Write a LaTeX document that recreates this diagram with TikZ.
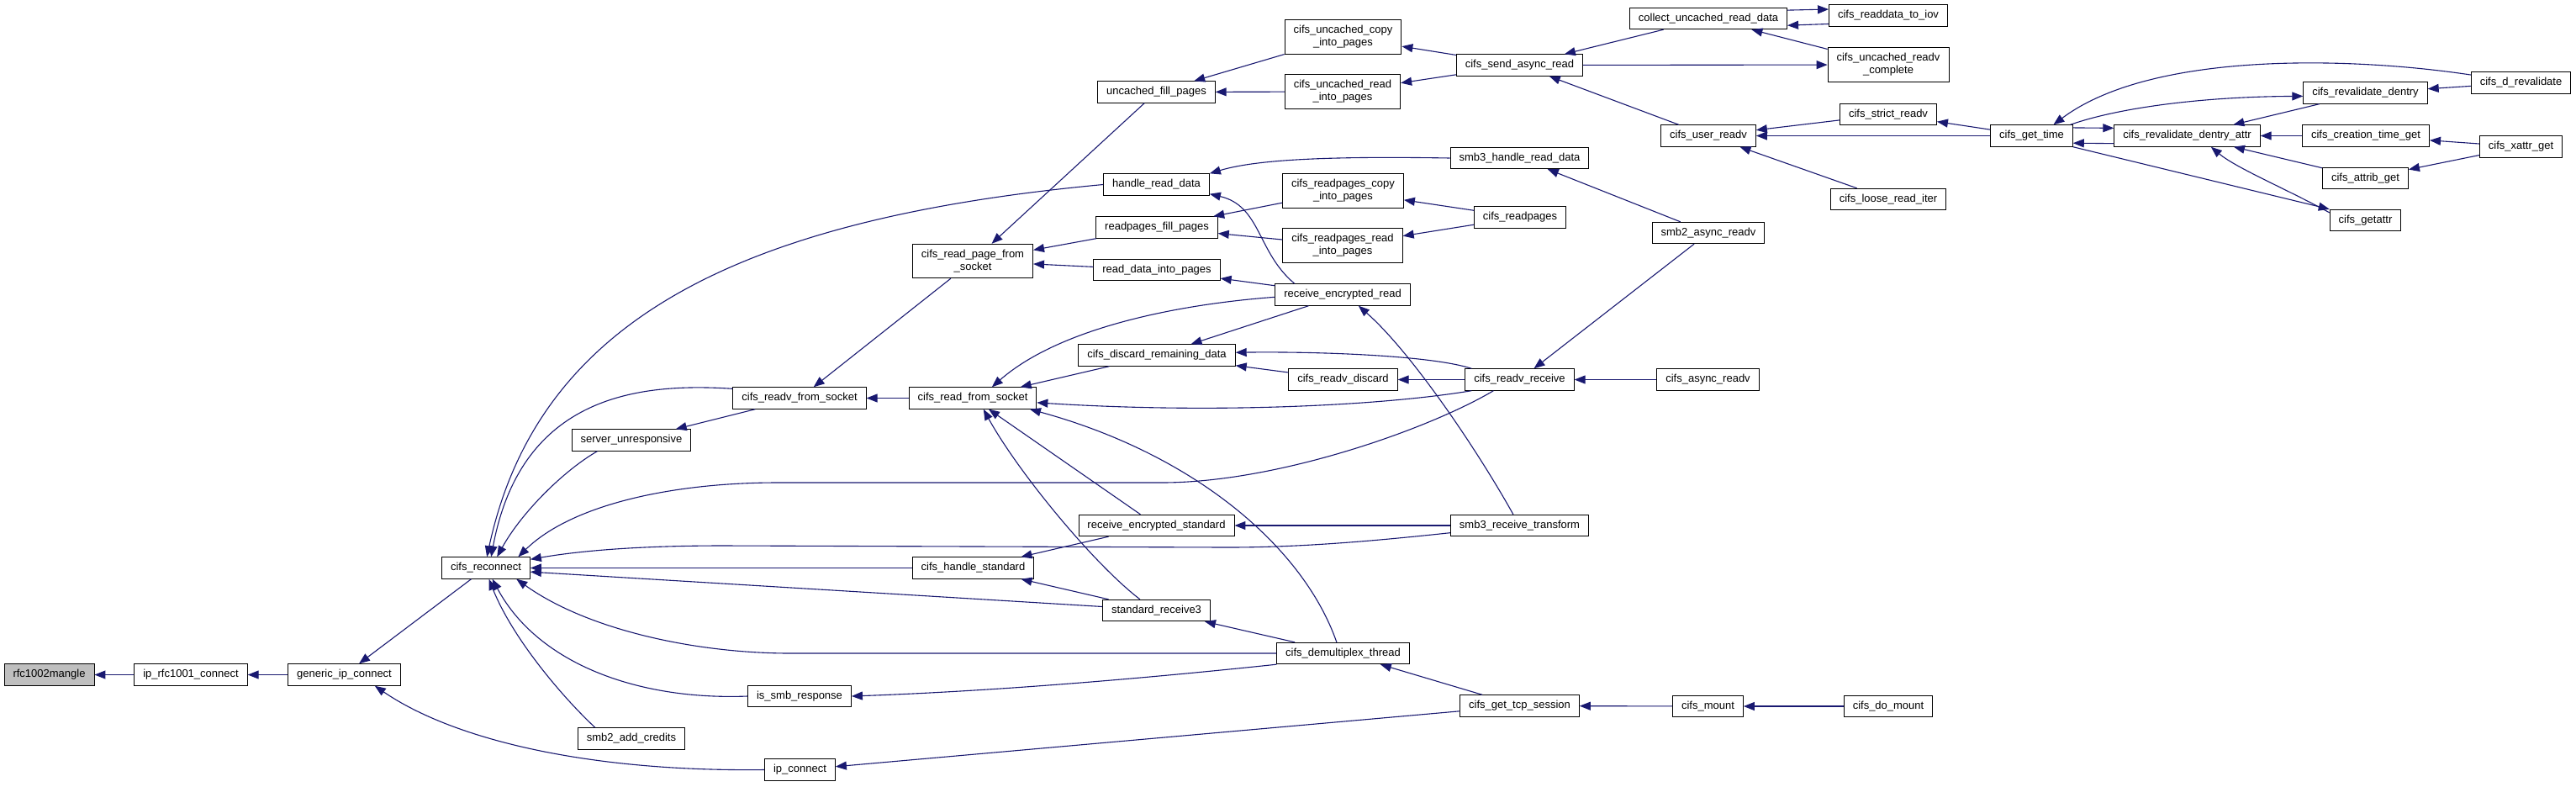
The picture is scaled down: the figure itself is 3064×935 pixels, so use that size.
\documentclass[tikz,border=0pt]{standalone}
\usepackage{fontspec}
\setmainfont{Liberation Sans}
\usetikzlibrary{arrows.meta}
\definecolor{callblue}{HTML}{191970}
\definecolor{rootgray}{HTML}{BFBFBF}

\begin{document}
\begin{tikzpicture}[x=1pt,y=-1pt,>={Triangle[length=13pt,width=10pt]},
  every node/.style={font=\fontsize{13}{15}\selectfont},
  func/.style={draw=black,fill=white,line width=0.9pt,inner xsep=10.5pt,inner ysep=4pt,minimum height=25.5pt},
  twoline/.style={func,align=center,minimum height=40.5pt},
  call/.style={callblue,line width=1.1pt,->}]
  \useasboundingbox (0,0) rectangle (3064,935);
  \node[func,fill=rootgray] (rfc) at (58.5,802.5) {rfc1002mangle};
  \node[func] (iprfc) at (227,802.5) {ip\_rfc1001\_connect};
  \node[func] (generic) at (409.5,802.5) {generic\_ip\_connect};
  \node[func] (reconnect) at (578,675.5) {cifs\_reconnect};
  \node[func] (srvunresp) at (751,523.5) {server\_unresponsive};
  \node[func] (addcredits) at (751,878.5) {smb2\_add\_credits};
  \node[func] (readvsock) at (951,473.5) {cifs\_readv\_from\_socket};
  \node[func] (issmb) at (951,828) {is\_smb\_response};
  \node[func] (ipconnect) at (951.5,915.5) {ip\_connect};
  \node[twoline] (pagesock) at (1157,310.5) {cifs\_read\_page\_from\\\_socket};
  \node[func] (readsock) at (1157,473.5) {cifs\_read\_from\_socket};
  \node[func] (handlestd) at (1157.5,675.5) {cifs\_handle\_standard};
  \node[func] (fillpages) at (1375.5,109.5) {uncached\_fill\_pages};
  \node[func] (handleread) at (1375.5,219.5) {handle\_read\_data};
  \node[func] (rpfill) at (1376,270.5) {readpages\_fill\_pages};
  \node[func] (datainto) at (1376,321) {read\_data\_into\_pages};
  \node[func] (discard) at (1376,422.5) {cifs\_discard\_remaining\_data};
  \node[func] (encstd) at (1375.5,625) {receive\_encrypted\_standard};
  \node[func] (stdrecv) at (1375.5,726) {standard\_receive3};
  \node[twoline] (uccopy) at (1597.5,44) {cifs\_uncached\_copy\\\_into\_pages};
  \node[twoline] (ucread) at (1597,109) {cifs\_uncached\_read\\\_into\_pages};
  \node[twoline] (rpcopy) at (1597.5,227) {cifs\_readpages\_copy\\\_into\_pages};
  \node[twoline] (rpread) at (1597,292) {cifs\_readpages\_read\\\_into\_pages};
  \node[func] (encread) at (1597,350.5) {receive\_encrypted\_read};
  \node[func] (rvdiscard) at (1597.5,451.5) {cifs\_readv\_discard};
  \node[func] (demux) at (1597.5,777) {cifs\_demultiplex\_thread};
  \node[func] (sendasync) at (1807.5,77.5) {cifs\_send\_async\_read};
  \node[func] (handledata) at (1807.5,188) {smb3\_handle\_read\_data};
  \node[func] (readpages) at (1808,258.5) {cifs\_readpages};
  \node[func] (rvreceive) at (1807.5,451.5) {cifs\_readv\_receive};
  \node[func] (transform) at (1807.5,625) {smb3\_receive\_transform};
  \node[func] (tcpsession) at (1807.5,839.5) {cifs\_get\_tcp\_session};
  \node[func] (collect) at (2032,22) {collect\_uncached\_read\_data};
  \node[func] (userreadv) at (2032,161.5) {cifs\_user\_readv};
  \node[func] (smb2readv) at (2032,277) {smb2\_async\_readv};
  \node[func] (asyncreadv) at (2031.5,451.5) {cifs\_async\_readv};
  \node[func] (mount) at (2031.5,840) {cifs\_mount};
  \node[func] (toiov) at (2246,18.5) {cifs\_readdata\_to\_iov};
  \node[twoline] (ucdone) at (2246,77) {cifs\_uncached\_readv\\\_complete};
  \node[func] (strictreadv) at (2246,136) {cifs\_strict\_readv};
  \node[func] (looseiter) at (2246,237) {cifs\_loose\_read\_iter};
  \node[func] (domount) at (2246,840) {cifs\_do\_mount};
  \node[func] (gettime) at (2416.5,161.5) {cifs\_get\_time};
  \node[func] (revalattr) at (2601.5,161.5) {cifs\_revalidate\_dentry\_attr};
  \node[func] (revaldentry) at (2813.5,110.5) {cifs\_revalidate\_dentry};
  \node[func] (creation) at (2814,161.5) {cifs\_creation\_time\_get};
  \node[func] (attribget) at (2813.5,212) {cifs\_attrib\_get};
  \node[func] (getattr) at (2813.5,262) {cifs\_getattr};
  \node[func] (drevalidate) at (2998.5,98.5) {cifs\_d\_revalidate};
  \node[func] (xattrget) at (2998.5,174.5) {cifs\_xattr\_get};
  \draw[call] (iprfc) -- (rfc);
  \draw[call] (generic) -- (iprfc);
  \draw[call] (reconnect) -- (generic);
  \draw[call] (ipconnect.west) .. controls (700,918) and (540,880) .. (generic.-20);
  \draw[call] (tcpsession) -- (ipconnect);
  \draw[call] (mount) -- (tcpsession);
  \draw[call] (domount) -- (mount);
  \draw[call] (tcpsession) -- (demux);
  \draw[call] (demux.south west) .. controls (1350,808) and (1180,822) .. (issmb.east);
  \draw[call] (issmb.west) .. controls (760,833) and (640,790) .. (reconnect.-60);
  \draw[call] (addcredits.163) .. controls (670,830) and (610,760) .. (reconnect.-75);
  \draw[call] (srvunresp.198) .. controls (670,560) and (620,610) .. (reconnect.45);
  \draw[call] (readvsock) -- (srvunresp);
  \draw[call] (readvsock.172) .. controls (760,455) and (620,470) .. (reconnect.65);
  \draw[call] (handleread.west) .. controls (880,260) and (640,380) .. (reconnect.85);
  \draw[call] (readsock) -- (readvsock);
  \draw[call] (pagesock) -- (readvsock);
  \draw[call] (fillpages) -- (pagesock);
  \draw[call] (rpfill) -- (pagesock);
  \draw[call] (datainto) -- (pagesock);
  \draw[call] (uccopy) -- (fillpages);
  \draw[call] (ucread) -- (fillpages);
  \draw[call] (sendasync) -- (uccopy);
  \draw[call] (sendasync) -- (ucread);
  \draw[call] (collect) -- (sendasync);
  \draw[call] (sendasync) -- (ucdone);
  \draw[call] (ucdone) -- (collect);
  \draw[call] (collect.6) -- (toiov.174);
  \draw[call] (toiov.188) -- (collect.-5);
  \draw[call] (userreadv) -- (sendasync);
  \draw[call] (strictreadv) -- (userreadv);
  \draw[call] (gettime) -- (userreadv);
  \draw[call] (looseiter) -- (userreadv);
  \draw[call] (gettime) -- (strictreadv);
  \draw[call] (gettime.11) -- (revalattr.174);
  \draw[call] (revalattr.186) -- (gettime.-10);
  \draw[call] (gettime.16) .. controls (2520,128) and (2620,115) .. (revaldentry.183);
  \draw[call] (drevalidate.171) .. controls (2800,68) and (2560,60) .. (gettime.27);
  \draw[call] (drevalidate) -- (revaldentry);
  \draw[call] (revaldentry) -- (revalattr);
  \draw[call] (creation) -- (revalattr);
  \draw[call] (attribget) -- (revalattr);
  \draw[call] (getattr.168) .. controls (2720,225) and (2660,200) .. (revalattr.-25);
  \draw[call] (gettime.south east) -- (getattr.north west);
  \draw[call] (xattrget) -- (creation);
  \draw[call] (xattrget) -- (attribget);
  \draw[call] (handledata.west) .. controls (1600,186) and (1500,188) .. (handleread.north east);
  \draw[call] (encread.167) .. controls (1495,300) and (1500,245) .. (handleread.-10);
  \draw[call] (rpcopy) -- (rpfill);
  \draw[call] (rpread) -- (rpfill);
  \draw[call] (readpages) -- (rpcopy);
  \draw[call] (readpages) -- (rpread);
  \draw[call] (smb2readv) -- (handledata);
  \draw[call] (encread) -- (datainto);
  \draw[call] (encread.182) .. controls (1400,362) and (1260,390) .. (readsock.30);
  \draw[call] (encread) -- (discard);
  \draw[call] (discard) -- (readsock);
  \draw[call] (rvreceive.167) .. controls (1700,422) and (1560,418) .. (discard.2);
  \draw[call] (rvdiscard) -- (discard);
  \draw[call] (rvreceive) -- (rvdiscard);
  \draw[call] (smb2readv) -- (rvreceive);
  \draw[call] (asyncreadv) -- (rvreceive);
  \draw[call] (rvreceive.193) .. controls (1640,483) and (1440,492) .. (readsock.-4);
  \draw[call] (rvreceive.203) .. controls (1700,510) and (1520,574) .. (1382,574) -- (925,574)
    .. controls (800,574) and (680,600) .. (reconnect.19);
  \draw[call] (encstd) -- (readsock);
  \draw[call] (transform) -- (encstd);
  \draw[call] (transform.120) .. controls (1760,540) and (1680,420) .. (encread.-35);
  \draw[call] (transform.186) .. controls (1620,645) and (1540,651) .. (1460,651) -- (860,649)
    .. controls (760,649) and (690,655) .. (reconnect.11);
  \draw[call] (encstd) -- (handlestd);
  \draw[call] (handlestd) -- (reconnect);
  \draw[call] (stdrecv) -- (handlestd);
  \draw[call] (stdrecv.146) .. controls (1300,670) and (1210,560) .. (readsock.-46);
  \draw[call] (stdrecv.176) -- (reconnect.-5);
  \draw[call] (demux) -- (stdrecv);
  \draw[call] (demux.120) .. controls (1550,650) and (1420,540) .. (readsock.-11);
  \draw[call] (demux.west) -- (940,777) .. controls (830,777) and (700,750) .. (reconnect.-20);
\end{tikzpicture}
\end{document}
